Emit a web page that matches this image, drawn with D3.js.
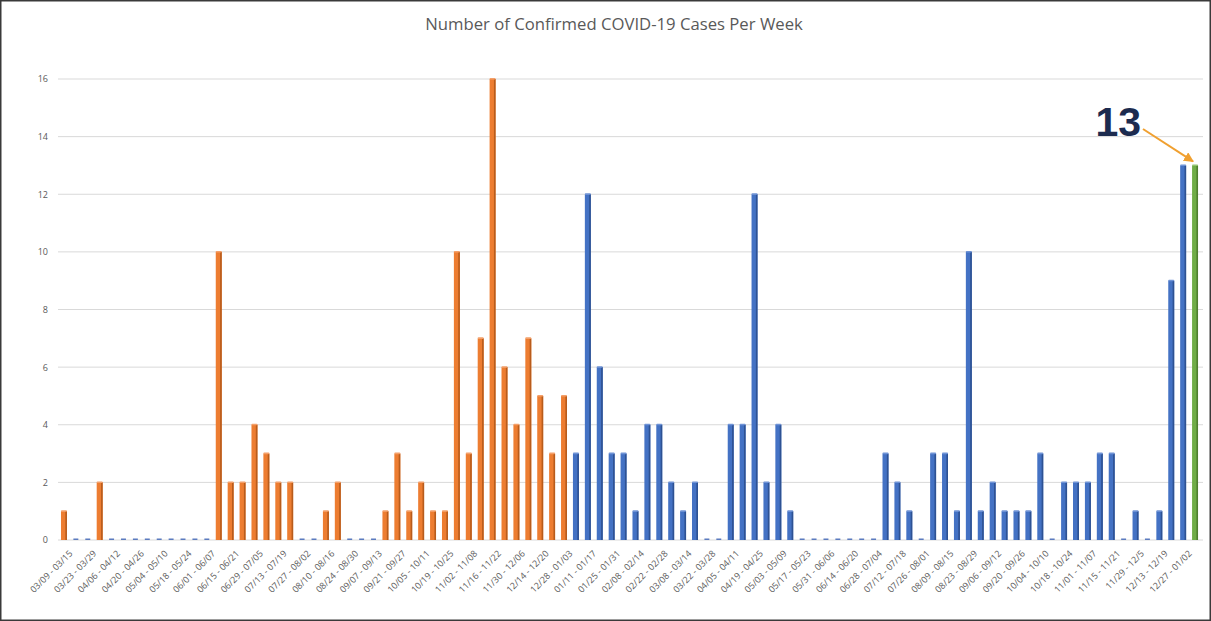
<!DOCTYPE html>
<html>
<head>
<meta charset="utf-8">
<script src="https://cdn.jsdelivr.net/npm/d3@7"></script>
<style>
  html, body { margin: 0; padding: 0; background: #fff; }
  svg { display: block; }
</style>
</head>
<body>
<div id="chart"></div>
<script>
// week labels, one per bar (2020-03-09 .. 2022-01-09)
const weeks = [
  '03/09 - 03/15', '03/16 - 03/22', '03/23 - 03/29', '03/30 - 04/05', '04/06 - 04/12', '04/13 - 04/19',
  '04/20 - 04/26', '04/27 - 05/03', '05/04 - 05/10', '05/11 - 05/17', '05/18 - 05/24', '05/25 - 05/31',
  '06/01 - 06/07', '06/08 - 06/14', '06/15 - 06/21', '06/22 - 06/28', '06/29 - 07/05', '07/06 - 07/12',
  '07/13 - 07/19', '07/20 - 07/26', '07/27 - 08/02', '08/03 - 08/09', '08/10 - 08/16', '08/17 - 08/23',
  '08/24 - 08/30', '08/31 - 09/06', '09/07 - 09/13', '09/14 - 09/20', '09/21 - 09/27', '09/28 - 10/04',
  '10/05 - 10/11', '10/12 - 10/18', '10/19 - 10/25', '10/26 - 11/01', '11/02 - 11/08', '11/09 - 11/15',
  '11/16 - 11/22', '11/23 - 11/29', '11/30 - 12/06', '12/07 - 12/13', '12/14 - 12/20', '12/21 - 12/27',
  '12/28 - 01/03',
  '01/04 - 01/10', '01/11 - 01/17', '01/18 - 01/24', '01/25 - 01/31', '02/01 - 02/07', '02/08 - 02/14',
  '02/15 - 02/21', '02/22 - 02/28', '03/01 - 03/07', '03/08 - 03/14', '03/15 - 03/21', '03/22 - 03/28',
  '03/29 - 04/04', '04/05 - 04/11', '04/12 - 04/18', '04/19 - 04/25', '04/26 - 05/02', '05/03 - 05/09',
  '05/10 - 05/16', '05/17 - 05/23', '05/24 - 05/30', '05/31 - 06/06', '06/07 - 06/13', '06/14 - 06/20',
  '06/21 - 06/27', '06/28 - 07/04', '07/05 - 07/11', '07/12 - 07/18', '07/19 - 07/25', '07/26 - 08/01',
  '08/02 - 08/08', '08/09 - 08/15', '08/16 - 08/22', '08/23 - 08/29', '08/30 - 09/05', '09/06 - 09/12',
  '09/13 - 09/19', '09/20 - 09/26', '09/27 - 10/03', '10/04 - 10/10', '10/11 - 10/17', '10/18 - 10/24',
  '10/25 - 10/31', '11/01 - 11/07', '11/08 - 11/14', '11/15 - 11/21', '11/22 - 11/28', '11/29 - 12/5',
  '12/06 - 12/12', '12/13 - 12/19', '12/20 - 12/26', '12/27 - 01/02',
  '01/03 - 01/09'
];

const cases2020 = [1, 0, 0, 2, 0, 0, 0, 0, 0, 0, 0, 0, 0, 10, 2, 2, 4, 3, 2, 2, 0, 0, 1, 2, 0, 0, 0, 1, 3, 1,
  2, 1, 1, 10, 3, 7, 16, 6, 4, 7, 5, 3, 5];
const cases2021 = [3, 12, 6, 3, 3, 1, 4, 4, 2, 1, 2, 0, 0, 4, 4, 12, 2, 4, 1, 0, 0, 0, 0, 0, 0, 0, 3, 2, 1, 0,
  3, 3, 1, 10, 1, 2, 1, 1, 1, 3, 0, 2, 2, 2, 3, 3, 0, 1, 0, 1, 9, 13];
const casesLatest = [13];

const yTicks = [0, 2, 4, 6, 8, 10, 12, 14, 16];

const W = 1211, H = 621;
const margin = { top: 79, right: 10, bottom: 81, left: 58 };

const colors = {
  y2020: { main: '#ed7d31', dark: '#b85c1c', light: '#f4a06a' },
  y2021: { main: '#4472c4', dark: '#2e5293', light: '#6f93d6' },
  latest: { main: '#70ad47', dark: '#4f7f30', light: '#93c470' }
};

const data = [];
cases2020.forEach(v => data.push({ week: weeks[data.length], value: v, c: colors.y2020 }));
cases2021.forEach(v => data.push({ week: weeks[data.length], value: v, c: colors.y2021 }));
casesLatest.forEach(v => data.push({ week: weeks[data.length], value: v, c: colors.latest }));

const svg = d3.select('#chart').append('svg')
  .attr('width', W)
  .attr('height', H);

svg.append('rect')
  .attr('x', 0.75).attr('y', 0.75)
  .attr('width', W - 1.5).attr('height', H - 1.5)
  .attr('fill', '#fff')
  .attr('stroke', '#3a3a3a')
  .attr('stroke-width', 1.5);

const x = d3.scaleBand()
  .domain(weeks)
  .range([margin.left, W - margin.right])
  .paddingInner(0.5)
  .paddingOuter(0.25);

const y = d3.scaleLinear()
  .domain([0, 16])
  .range([H - margin.bottom, margin.top]);

// title
svg.append('text')
  .attr('x', 614)
  .attr('y', 30)
  .attr('text-anchor', 'middle')
  .style('font-family', '"Open Sans", sans-serif')
  .style('font-size', '16.7px')
  .style('fill', '#595959')
  .text('Number of Confirmed COVID-19 Cases Per Week');

// gridlines
svg.append('g')
  .selectAll('line')
  .data(yTicks)
  .enter()
  .append('line')
  .attr('x1', margin.left)
  .attr('x2', W - 8)
  .attr('y1', d => y(d))
  .attr('y2', d => y(d))
  .attr('stroke', '#d9d9d9')
  .attr('stroke-width', 1);

// y axis labels
const yAxis = svg.append('g')
  .attr('transform', `translate(${margin.left},0)`)
  .call(d3.axisLeft(y).tickValues(yTicks).tickSize(0).tickPadding(10));
yAxis.select('.domain').remove();
yAxis.selectAll('text')
  .style('font-family', '"Open Sans", sans-serif')
  .style('font-size', '9px')
  .style('fill', '#595959');

// x axis labels, every other week
const xAxis = svg.append('g')
  .attr('transform', `translate(0,${y(0)})`)
  .call(d3.axisBottom(x).tickValues(weeks.filter((d, i) => i % 2 === 0)).tickSize(0).tickPadding(6));
xAxis.select('.domain').remove();
xAxis.selectAll('text')
  .style('font-family', '"Open Sans", sans-serif')
  .style('font-size', '9px')
  .style('fill', '#595959')
  .attr('text-anchor', 'end')
  .attr('dy', '0.3em')
  .attr('transform', 'translate(3,8) rotate(-45)');

// bars
const bw = x.bandwidth();
const bars = svg.append('g')
  .selectAll('g')
  .data(data)
  .enter()
  .append('g')
  .attr('transform', d => `translate(${x(d.week)},0)`);

// zero weeks: thin flat marker on the baseline
bars.filter(d => d.value === 0)
  .append('rect')
  .attr('x', 0.5)
  .attr('y', y(0) - 1.5)
  .attr('width', bw - 1)
  .attr('height', 1.5)
  .attr('fill', '#5b7bbf');

const filled = bars.filter(d => d.value > 0);

filled.append('rect')
  .attr('x', 0)
  .attr('y', d => y(d.value))
  .attr('width', bw)
  .attr('height', d => y(0) - y(d.value))
  .attr('fill', d => d.c.main);

filled.append('rect')
  .attr('x', bw - 1.6)
  .attr('y', d => y(d.value))
  .attr('width', 1.6)
  .attr('height', d => y(0) - y(d.value))
  .attr('fill', d => d.c.dark);

filled.append('rect')
  .attr('x', 0)
  .attr('y', d => y(d.value) - 1)
  .attr('width', bw)
  .attr('height', 1.6)
  .attr('rx', 0.8)
  .attr('fill', d => d.c.light);

// annotation on the latest week
const last = data[data.length - 1];
const tipX = x(last.week) + bw / 2 - 2;
const tipY = y(last.value) - 4;

svg.append('defs').append('marker')
  .attr('id', 'arrow')
  .attr('viewBox', '0 0 10 10')
  .attr('refX', 9)
  .attr('refY', 5)
  .attr('markerWidth', 5)
  .attr('markerHeight', 5)
  .attr('orient', 'auto')
  .append('path')
  .attr('d', 'M0,0 L10,5 L0,10 z')
  .attr('fill', '#f0a030');

svg.append('line')
  .attr('x1', 1143)
  .attr('y1', 129)
  .attr('x2', tipX)
  .attr('y2', tipY)
  .attr('stroke', '#f0a030')
  .attr('stroke-width', 2)
  .attr('marker-end', 'url(#arrow)');

svg.append('text')
  .attr('x', 1141)
  .attr('y', 136)
  .attr('text-anchor', 'end')
  .style('font-family', '"Liberation Sans", Arial, sans-serif')
  .style('font-weight', 'bold')
  .style('font-size', '41px')
  .style('fill', '#1c2b4f')
  .text(last.value);
</script>
</body>
</html>
